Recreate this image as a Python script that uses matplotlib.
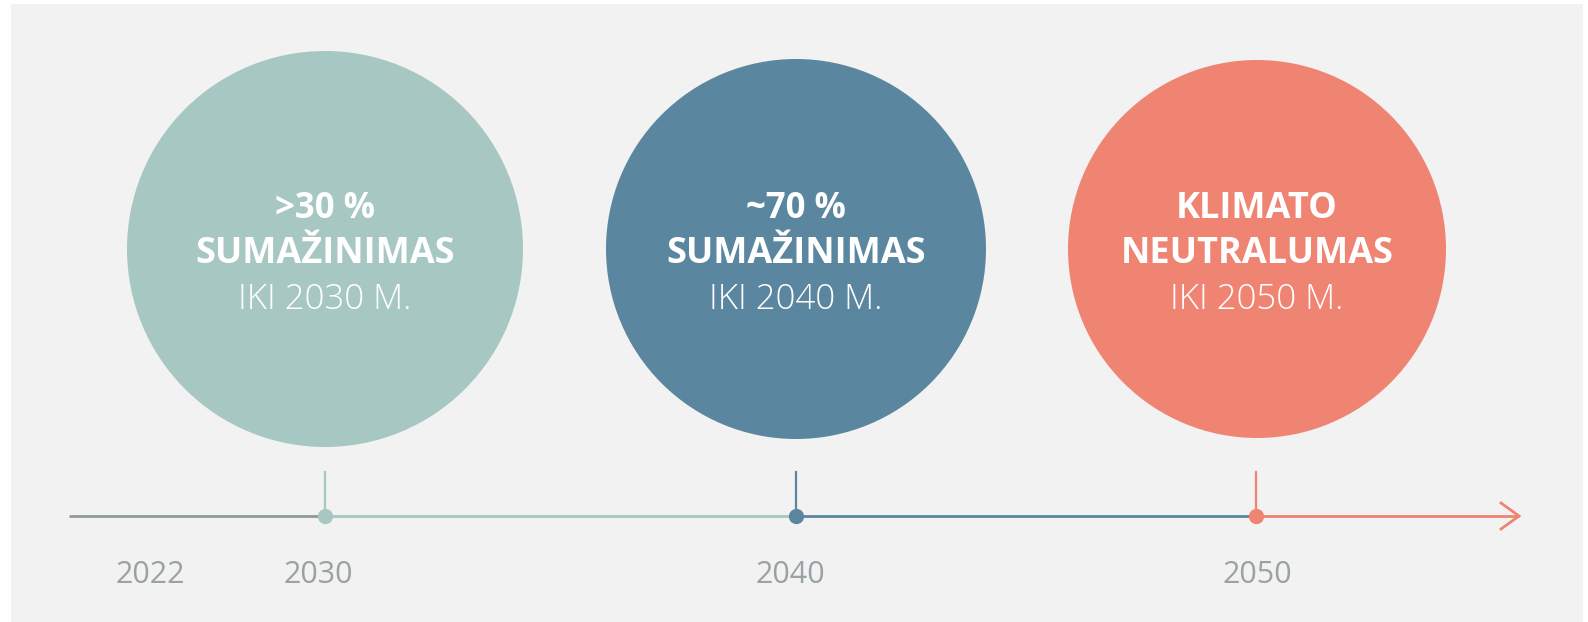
import matplotlib
matplotlib.use("Agg")
import matplotlib.pyplot as plt
from matplotlib.patches import Circle, Rectangle

plt.rcParams['font.family'] = ['Open Sans', 'DejaVu Sans']

# Data
years = ["2022", "2030", "2040", "2050"]
headline = [">30 %", "~70 %", "KLIMATO"]
headline2 = ["SUMAŽINIMAS", "SUMAŽINIMAS", "NEUTRALUMAS"]
target = ["IKI 2030 M.", "IKI 2040 M.", "IKI 2050 M."]
colors = ["#a7c7c3", "#5a879f", "#ef8473"]

# Layout (pixel coordinates)
W, H = 1588, 622
year_x = [150, 325, 796, 1256]
circle_x = [325, 796, 1257]
circle_y = [249, 249, 249]
circle_r = [198, 190, 189]
first_size = [25, 25, 26]
line_y = 516
start_x = 69
end_x = 1519

fig = plt.figure(figsize=(W / 100, H / 100), dpi=100)
ax = fig.add_axes([0, 0, 1, 1])
ax.set_xlim(0, W)
ax.set_ylim(H, 0)
ax.axis("off")
fig.patch.set_facecolor("white")
ax.add_patch(Rectangle((11, 4), 1572, 620, facecolor="#f2f2f2", edgecolor="none", zorder=0))

# circles with text
for i in range(3):
    ax.add_patch(Circle((circle_x[i], circle_y[i]), circle_r[i], facecolor=colors[i],
                        edgecolor="none", zorder=1))
    cx = circle_x[i]
    ax.text(cx, 209, headline[i], ha="center", va="center", color="white",
            fontsize=first_size[i], fontweight="bold", zorder=3)
    ax.text(cx, 254, headline2[i], ha="center", va="center", color="white",
            fontsize=26, fontweight="bold", zorder=3)
    ax.text(cx, 300, target[i], ha="center", va="center", color="white",
            fontsize=25, fontweight="light", zorder=3)

# timeline segments
seg_colors = ["#8f9a9c"] + colors
xs = year_x[1:]
bounds = [start_x] + xs + [end_x]
for i in range(4):
    ax.plot([bounds[i], bounds[i + 1]], [line_y, line_y], color=seg_colors[i],
            lw=2, solid_capstyle="butt", zorder=2)
# arrow head
ax.plot([end_x - 18, end_x, end_x - 18], [line_y - 13, line_y, line_y + 13],
        color=colors[2], lw=2, solid_joinstyle="miter", zorder=2)

# ticks and dots
for i in range(3):
    x = xs[i]
    ax.plot([x, x], [472, line_y], color=colors[i], lw=1.6, zorder=3)
    ax.plot([x], [line_y], marker="o", markersize=11, color=colors[i],
            markeredgewidth=0, zorder=4)

# year labels
label_x = [150, 318, 790, 1257]
for lx, y in zip(label_x, years):
    ax.text(lx, 575, y, ha="center", va="center", color="#9aa2a4", fontsize=22,
            fontweight="normal")

fig.savefig("out.png", dpi=100, facecolor="white")
